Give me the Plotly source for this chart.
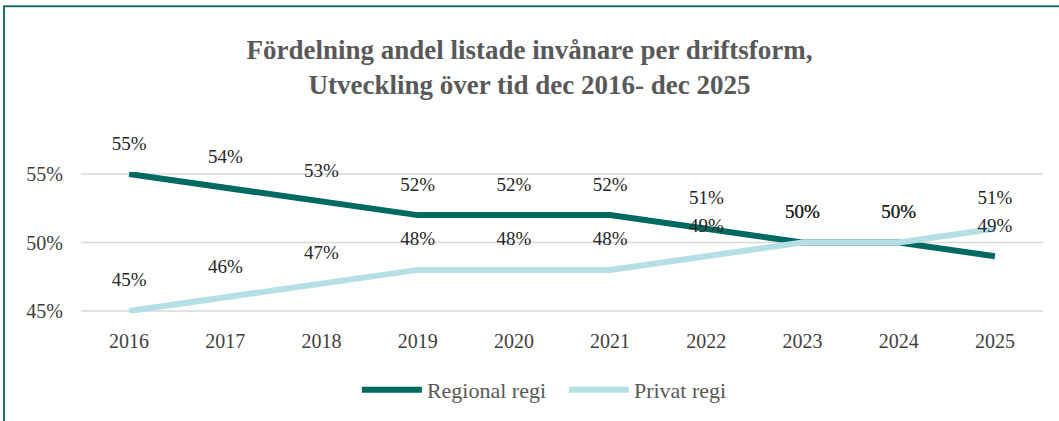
import plotly.graph_objects as go

years = ["2016", "2017", "2018", "2019", "2020", "2021", "2022", "2023", "2024", "2025"]
regional = [0.55, 0.54, 0.53, 0.52, 0.52, 0.52, 0.51, 0.50, 0.50, 0.49]
privat = [0.45, 0.46, 0.47, 0.48, 0.48, 0.48, 0.49, 0.50, 0.50, 0.51]
y_ticks = [0.45, 0.50, 0.55]

title = "Fördelning andel listade invånare per driftsform,<br>Utveckling över tid dec 2016- dec 2025"
serif = "Liberation Serif"
c_reg = "#006a60"
c_priv = "#b3dfe5"

fig = go.Figure()
fig.add_trace(go.Scatter(x=years, y=regional, mode="lines", name="Regional regi",
                         line=dict(color=c_reg, width=6), cliponaxis=False))
fig.add_trace(go.Scatter(x=years, y=privat, mode="lines", name="Privat regi",
                         line=dict(color=c_priv, width=6), cliponaxis=False))

for series in (regional, privat):
    fig.add_trace(go.Scatter(
        x=years, y=series, mode="markers+text",
        text=[f"{round(v*100)}%" for v in series], textposition="top center",
        marker=dict(size=30, opacity=0, color="white"),
        textfont=dict(family=serif, size=19, color="#262626"),
        showlegend=False, hoverinfo="skip", cliponaxis=False))

shapes = [dict(type="line", xref="paper", yref="y", x0=0, x1=1, y0=t, y1=t,
               line=dict(color="#d9d9d9", width=1.5), layer="below") for t in y_ticks]
shapes.append(dict(type="rect", xref="paper", yref="paper",
                   x0=(4 - 81) / 962, x1=1.2, y0=-3, y1=(311 - 13) / 137,
                   line=dict(color="#1f6f6d", width=2), fillcolor="rgba(0,0,0,0)", layer="below"))

fig.update_layout(
    width=1059, height=421,
    margin=dict(l=81, r=16, t=172, b=108, autoexpand=False),
    paper_bgcolor="white", plot_bgcolor="white",
    title=dict(text=f"<b>{title}</b>", x=0.5, xanchor="center", y=0.86, yanchor="middle",
               font=dict(family=serif, size=27, color="#595959")),
    xaxis=dict(type="category", showgrid=False, showline=False, zeroline=False,
               range=[-0.5, 9.5], automargin=False,
               tickfont=dict(family=serif, size=20, color="#404040"), ticks="",
               ticklabelstandoff=14),
    yaxis=dict(range=[0.4485, 0.5515], tickvals=y_ticks, tickformat=".0%", showgrid=False,
               zeroline=False, showline=False, automargin=False,
               tickfont=dict(family=serif, size=20, color="#404040"), ticks="",
               ticklabelstandoff=17),
    legend=dict(orientation="h", x=0.2868, xanchor="left", y=-0.545, yanchor="middle",
                font=dict(family=serif, size=22, color="#595959"), itemwidth=60,
                entrywidth=132, entrywidthmode="pixels"),
    shapes=shapes,
    showlegend=True,
    hovermode=False,
)
fig.write_html("out.html", config={"displayModeBar": False},
               post_script="document.body.style.margin='0';document.body.style.padding='0';")
